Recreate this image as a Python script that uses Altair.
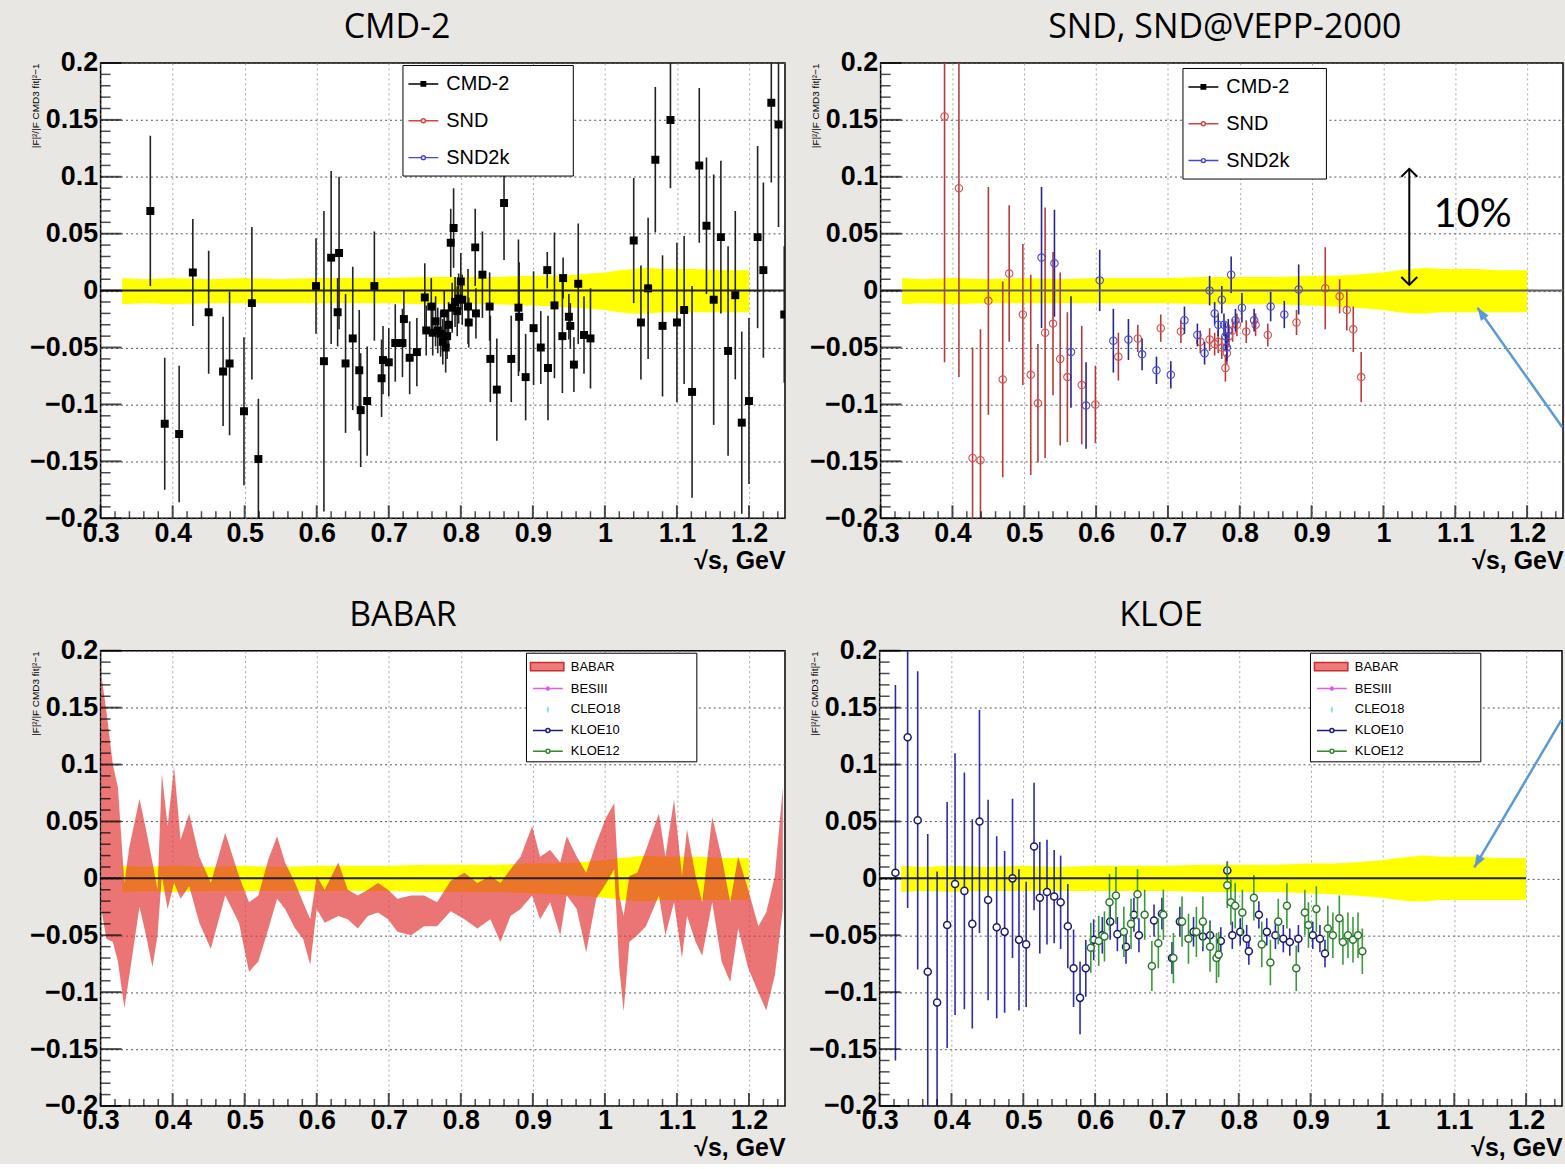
import altair as alt
import pandas as pd

# ---------------- data ----------------
cmd2_x = [0.369, 0.389, 0.409, 0.428, 0.450, 0.470, 0.479, 0.499, 0.510, 0.519,
          0.599, 0.610, 0.620, 0.631, 0.629, 0.640, 0.650, 0.659, 0.661, 0.670,
          0.680, 0.690, 0.692, 0.700, 0.709, 0.719, 0.721, 0.729, 0.739, 0.750,
          0.752, 0.759, 0.761, 0.765, 0.768, 0.772, 0.775, 0.777, 0.779, 0.781,
          0.783, 0.786, 0.788, 0.790, 0.792, 0.795, 0.797, 0.800, 0.802, 0.810,
          0.811, 0.820, 0.821, 0.830, 0.840, 0.841, 0.850, 0.860, 0.870, 0.880,
          0.881, 0.890, 0.901, 0.911, 0.920, 0.921, 0.930, 0.941, 0.942, 0.950,
          0.952, 0.957, 0.963, 0.971, 0.980, 1.040, 1.050, 1.060, 1.070, 1.080,
          1.091, 1.100, 1.110, 1.121, 1.131, 1.141, 1.151, 1.161, 1.171, 1.181,
          1.190, 1.200, 1.212, 1.220, 1.231, 1.241, 1.249]
cmd2_y = [0.070, -0.117, -0.126, 0.016, -0.019, -0.071, -0.064, -0.106, -0.011, -0.148,
          0.004, -0.062, 0.029, 0.033, -0.019, -0.064, -0.042, -0.070, -0.105, -0.097,
          0.004, -0.077, -0.061, -0.063, -0.046, -0.046, -0.025, -0.059, -0.054, -0.006,
          -0.035, -0.014, -0.037, -0.027, -0.035, -0.038, -0.045, -0.020, -0.050, -0.040,
          -0.030, 0.042, -0.015, 0.055, -0.010, -0.018, -0.007, 0.008, -0.008, -0.014,
          -0.028, 0.038, -0.020, 0.014, -0.014, -0.060, -0.087, 0.077, -0.060, -0.015,
          -0.023, -0.076, -0.033, -0.050, 0.018, -0.068, -0.013, -0.040, 0.011, -0.023,
          -0.031, -0.065, 0.006, -0.039, -0.042, 0.044, -0.028, 0.002, 0.115, -0.031,
          0.150, -0.028, -0.017, -0.089, 0.110, 0.057, -0.008, 0.047, -0.053, -0.004,
          -0.116, -0.097, 0.047, 0.018, 0.165, 0.146, -0.021]
cmd2_e = [0.066, 0.058, 0.060, 0.047, 0.054, 0.048, 0.063, 0.065, 0.067, 0.053,
          0.042, 0.132, 0.076, 0.067, 0.030, 0.061, 0.063, 0.053, 0.050, 0.048,
          0.048, 0.034, 0.030, 0.030, 0.034, 0.030, 0.025, 0.032, 0.030, 0.030,
          0.022, 0.025, 0.020, 0.022, 0.020, 0.020, 0.020, 0.020, 0.022, 0.020,
          0.020, 0.030, 0.022, 0.035, 0.022, 0.022, 0.022, 0.025, 0.022, 0.033,
          0.022, 0.034, 0.022, 0.038, 0.030, 0.038, 0.045, 0.050, 0.038, 0.060,
          0.048, 0.038, 0.050, 0.032, 0.016, 0.046, 0.064, 0.050, 0.018, 0.020,
          0.020, 0.024, 0.053, 0.034, 0.044, 0.055, 0.050, 0.062, 0.064, 0.062,
          0.060, 0.070, 0.065, 0.093, 0.068, 0.060, 0.110, 0.067, 0.092, 0.074,
          0.080, 0.073, 0.080, 0.077, 0.070, 0.090, 0.060]

snd_x = [0.389, 0.409, 0.428, 0.439, 0.450, 0.470, 0.479, 0.498, 0.509, 0.519,
         0.529, 0.540, 0.550, 0.560, 0.580, 0.599, 0.631, 0.658, 0.690, 0.718,
         0.745, 0.758, 0.765, 0.770, 0.775, 0.780, 0.782, 0.785, 0.790, 0.796,
         0.809, 0.822, 0.839, 0.879, 0.919, 0.939, 0.949, 0.958, 0.969]
snd_y = [0.153, 0.090, -0.147, -0.149, -0.009, -0.078, 0.015, -0.021, -0.074, -0.099,
         -0.037, -0.029, -0.060, -0.076, -0.083, -0.100, -0.058, -0.042, -0.033, -0.036,
         -0.045, -0.043, -0.047, -0.045, -0.050, -0.068, -0.055, -0.040, -0.035, -0.030,
         -0.036, -0.030, -0.039, -0.028, 0.002, -0.005, -0.017, -0.034, -0.076]
snd_e = [0.216, 0.166, 0.097, 0.115, 0.100, 0.086, 0.060, 0.062, 0.088, 0.052,
         0.110, 0.063, 0.076, 0.057, 0.052, 0.034, 0.021, 0.012, 0.012, 0.010,
         0.010, 0.010, 0.010, 0.010, 0.010, 0.012, 0.010, 0.010, 0.010, 0.010,
         0.010, 0.010, 0.010, 0.011, 0.036, 0.015, 0.018, 0.020, 0.022]

snd2k_x = [0.524, 0.542, 0.565, 0.586, 0.605, 0.624, 0.645, 0.664, 0.684, 0.704,
           0.723, 0.741, 0.751, 0.758, 0.765, 0.770, 0.775, 0.778, 0.780, 0.782,
           0.784, 0.788, 0.794, 0.803, 0.820, 0.843, 0.862, 0.882]
snd2k_y = [0.029, 0.024, -0.054, -0.101, 0.009, -0.044, -0.043, -0.056, -0.070, -0.074,
           -0.026, -0.039, -0.055, 0.000, -0.020, -0.030, -0.008, -0.030, -0.040, -0.050,
           -0.035, 0.014, -0.026, -0.015, -0.026, -0.014, -0.021, 0.001]
snd2k_e = [0.062, 0.047, 0.049, 0.038, 0.027, 0.028, 0.018, 0.014, 0.012, 0.012,
           0.012, 0.010, 0.010, 0.013, 0.010, 0.010, 0.012, 0.010, 0.012, 0.012,
           0.010, 0.016, 0.010, 0.013, 0.010, 0.013, 0.012, 0.022]

kloe10_x = [0.322, 0.339, 0.353, 0.367, 0.380, 0.394, 0.405, 0.418, 0.429, 0.439,
            0.451, 0.463, 0.474, 0.485, 0.494, 0.504, 0.515, 0.523, 0.533, 0.543,
            0.552, 0.562, 0.570, 0.579, 0.587, 0.598, 0.610, 0.621, 0.631, 0.643,
            0.654, 0.661, 0.682, 0.693, 0.707, 0.718, 0.737, 0.750, 0.760, 0.775,
            0.784, 0.791, 0.802, 0.811, 0.814, 0.828, 0.839, 0.851, 0.862, 0.871,
            0.883, 0.903, 0.913, 0.920]
kloe10_y = [0.005, 0.124, 0.051, -0.082, -0.109, -0.041, -0.005, -0.011, -0.040, 0.050,
            -0.019, -0.043, -0.047, 0.000, -0.054, -0.058, 0.028, -0.017, -0.012, -0.016,
            -0.021, -0.042, -0.079, -0.105, -0.079, -0.054, -0.050, -0.038, -0.049, -0.060,
            -0.032, -0.050, -0.037, -0.031, -0.070, -0.038, -0.047, -0.051, -0.050, -0.055,
            0.007, -0.050, -0.047, -0.053, -0.064, -0.032, -0.047, -0.050, -0.053, -0.056,
            -0.053, -0.050, -0.053, -0.066]
kloe10_e = [0.165, 0.150, 0.131, 0.121, 0.115, 0.108, 0.115, 0.104, 0.092, 0.098,
            0.088, 0.080, 0.071, 0.070, 0.062, 0.055, 0.056, 0.049, 0.046, 0.041,
            0.041, 0.037, 0.034, 0.032, 0.025, 0.018, 0.016, 0.016, 0.015, 0.015,
            0.015, 0.015, 0.014, 0.014, 0.014, 0.013, 0.013, 0.013, 0.013, 0.012,
            0.008, 0.012, 0.012, 0.012, 0.012, 0.012, 0.012, 0.012, 0.012, 0.012,
            0.012, 0.012, 0.012, 0.012]

kloe12_x = [0.594, 0.605, 0.613, 0.620, 0.629, 0.640, 0.650, 0.659, 0.669, 0.679,
            0.688, 0.695, 0.709, 0.721, 0.730, 0.741, 0.750, 0.760, 0.769, 0.772,
            0.784, 0.789, 0.795, 0.805, 0.821, 0.832, 0.844, 0.855, 0.867, 0.880,
            0.892, 0.897, 0.908, 0.924, 0.931, 0.940, 0.945, 0.952, 0.959, 0.966,
            0.972]
kloe12_y = [-0.061, -0.055, -0.051, -0.021, -0.015, -0.047, -0.040, -0.014, -0.032, -0.077,
            -0.057, -0.032, -0.070, -0.038, -0.053, -0.047, -0.038, -0.060, -0.070, -0.067,
            -0.006, -0.021, -0.024, -0.030, -0.017, -0.058, -0.074, -0.038, -0.024, -0.079,
            -0.030, -0.041, -0.027, -0.044, -0.050, -0.035, -0.056, -0.050, -0.054, -0.050,
            -0.064]
kloe12_e = [0.022, 0.022, 0.022, 0.025, 0.025, 0.022, 0.022, 0.022, 0.022, 0.022,
            0.022, 0.022, 0.022, 0.022, 0.022, 0.022, 0.022, 0.022, 0.022, 0.020,
            0.020, 0.020, 0.020, 0.020, 0.020, 0.020, 0.020, 0.020, 0.020, 0.020,
            0.020, 0.020, 0.020, 0.020, 0.020, 0.020, 0.020, 0.020, 0.020, 0.020,
            0.020]

# CMD-3 fit uncertainty band (yellow)
band_x = [0.33, 0.36, 0.40, 0.45, 0.50, 0.55, 0.60, 0.65, 0.70, 0.75, 0.80, 0.85,
          0.90, 0.93, 0.96, 0.98, 1.00, 1.02, 1.04, 1.06, 1.08, 1.10, 1.13, 1.16, 1.20]
band_lo = [-0.012, -0.011, -0.012, -0.011, -0.011, -0.011, -0.011, -0.011, -0.011, -0.012,
           -0.012, -0.012, -0.013, -0.014, -0.015, -0.016, -0.017, -0.019, -0.020, -0.020,
           -0.019, -0.019, -0.019, -0.019, -0.019]
band_hi = [0.011, 0.010, 0.011, 0.010, 0.011, 0.010, 0.011, 0.011, 0.011, 0.012,
           0.012, 0.012, 0.013, 0.013, 0.014, 0.015, 0.016, 0.018, 0.019, 0.020,
           0.019, 0.019, 0.019, 0.018, 0.018]

# BABAR band
babar_x = [0.301, 0.308, 0.317, 0.324, 0.333, 0.340, 0.354, 0.363, 0.372, 0.379,
           0.385, 0.393, 0.402, 0.411, 0.423, 0.437, 0.453, 0.473, 0.492, 0.506,
           0.519, 0.533, 0.545, 0.556, 0.570, 0.581, 0.591, 0.600, 0.611, 0.630,
           0.643, 0.657, 0.671, 0.685, 0.699, 0.712, 0.731, 0.749, 0.767, 0.786,
           0.805, 0.823, 0.841, 0.855, 0.869, 0.883, 0.899, 0.910, 0.924, 0.938,
           0.947, 0.961, 0.974, 0.988, 1.002, 1.013, 1.020, 1.026, 1.034, 1.045,
           1.057, 1.075, 1.084, 1.096, 1.107, 1.114, 1.126, 1.135, 1.149, 1.162,
           1.174, 1.185, 1.199, 1.213, 1.224, 1.236, 1.247]
babar_hi = [0.179, 0.147, 0.100, 0.080, -0.004, 0.028, 0.070, 0.043, 0.014, -0.010,
            0.092, 0.046, 0.098, 0.034, 0.057, 0.019, -0.004, 0.040, 0.002, -0.021,
            -0.015, 0.017, 0.037, 0.014, -0.004, -0.021, -0.036, 0.002, -0.010, 0.014,
            -0.010, -0.015, -0.010, -0.004, -0.010, -0.018, -0.015, -0.015, -0.021, -0.002,
            0.005, -0.004, 0.002, -0.004, 0.008, 0.019, 0.046, 0.019, 0.025, 0.014,
            0.037, 0.019, 0.005, 0.031, 0.054, 0.066, -0.015, -0.033, 0.002, 0.005,
            0.025, 0.057, 0.019, 0.069, 0.002, 0.043, 0.002, -0.021, 0.054, 0.019,
            -0.021, 0.019, -0.010, -0.042, -0.030, 0.002, 0.080]
babar_lo = [-0.027, -0.053, -0.056, -0.073, -0.114, -0.085, -0.025, -0.050, -0.078, -0.050,
            0.002, -0.027, -0.004, -0.018, -0.007, -0.039, -0.062, -0.015, -0.039, -0.082,
            -0.073, -0.044, -0.018, -0.027, -0.044, -0.053, -0.076, -0.027, -0.039, -0.033,
            -0.036, -0.044, -0.033, -0.030, -0.036, -0.047, -0.050, -0.042, -0.042, -0.029,
            -0.036, -0.044, -0.036, -0.056, -0.033, -0.027, -0.015, -0.036, -0.021, -0.050,
            -0.015, -0.027, -0.065, -0.018, -0.004, 0.008, -0.079, -0.117, -0.056, -0.050,
            -0.042, -0.015, -0.050, -0.021, -0.070, -0.033, -0.056, -0.068, -0.021, -0.073,
            -0.091, -0.044, -0.079, -0.100, -0.116, -0.085, -0.027]

# axis ticks
x_major = [0.3, 0.4, 0.5, 0.6, 0.7, 0.8, 0.9, 1.0, 1.1, 1.2]
x_minor = [round(0.3 + 0.02 * i, 2) for i in range(48) if i % 5]
y_major = [-0.2, -0.15, -0.1, -0.05, 0.0, 0.05, 0.1, 0.15, 0.2]
y_minor = [round(-0.2 + 0.01 * i, 2) for i in range(41) if i % 5]

# legend entries (trailing blanks + zero-width char widen the ROOT-style legend box)
NB = "\u00a0"
ZW = "\u200b"
legend1_labels = ["CMD-2", "SND", "SND2k"]
legend2_labels = ["BABAR", "BESIII", "CLEO18", "KLOE10", "KLOE12"]
legend1_names = [n + NB * 10 + ZW for n in legend1_labels]
legend1b_names = [n + NB * 5 + ZW for n in legend1_labels]
legend2_names = [n + NB * 20 + ZW for n in legend2_labels]

# ---------------- styling ----------------
W, H = 687, 457
W_R = 685
BG = "#e9e7e3"
FONT = "Liberation Sans"

LINE_SQ = "M-1.5,0H-0.22M0.22,0H1.5M-0.22,-0.22H0.22V0.22H-0.22Z"
LINE_CI = "M-1.5,0H-0.2M0.2,0H1.5M-0.2,0A0.2,0.2 0 1,1 0.2,0A0.2,0.2 0 1,1 -0.2,0"
LINE_DOT = "M-1.5,0H-0.15M0.15,0H1.5M-0.15,0A0.15,0.15 0 1,1 0.15,0A0.15,0.15 0 1,1 -0.15,0"
RECT = "M-1.75,-0.42H1.6V0.42H-1.75Z"
CLEO = "M0,-0.3V0.3M-0.12,-0.08H0.12M-0.12,0.08H0.12"
CHEV_UP = "M-1,1L0,0L1,1"
CHEV_DN = "M-1,-1L0,0L1,-1"
HEAD = "M0,0L-0.6,1.6L0.6,1.6Z"


def frame(d):
    return pd.DataFrame(d)


def pts(xs, ys, es):
    return pd.DataFrame({"x": xs, "y": ys,
                         "lo": [a - b for a, b in zip(ys, es)],
                         "hi": [a + b for a, b in zip(ys, es)]})


def make_panel(title, dx, width, legend_names, legend_shapes, legend_fills,
               legend_strokes, leg_opts, zero_end, zero_color, data_layers, extra=None):
    xs = alt.Scale(domain=[0.3, 1.25], nice=False, zero=False)
    ys = alt.Scale(domain=[-0.2, 0.2], nice=False, zero=False)
    xaxis = alt.Axis(values=x_major, format="~g", title="√s, GeV", titleAnchor="end",
                     titleFontSize=25, titleFontWeight="bold", titlePadding=2,
                     labelPadding=2, gridColor="#a8a8a8", gridDash=[2, 3])
    yaxis = alt.Axis(values=y_major, format="~g", title="|F|²/|F CMD3 fit|²−1",
                     titleFontSize=10, titleFontWeight="normal", titleX=-60, titleY=0,
                     titleAlign="right", titleBaseline="bottom", titleAngle=270,
                     labelPadding=3, gridColor="#555555", gridDash=[2, 3])

    def X(f):
        return alt.X(f, type="quantitative", scale=xs, axis=xaxis)

    def Y(f):
        return alt.Y(f, type="quantitative", scale=ys, axis=yaxis)

    band = alt.Chart(frame({"x": band_x, "lo": band_lo, "hi": band_hi})).mark_area(
        color="#ffff00", opacity=1, clip=True).encode(x=X("x"), y=Y("lo"), y2="hi")

    layers = [band]
    for kind, df, col, mcol in data_layers:
        if kind == "babar":
            layers.append(alt.Chart(df).mark_area(color="#e23b3b", opacity=0.7, clip=True)
                          .encode(x=X("x"), y=Y("lo"), y2="hi"))
            continue
        layers.append(alt.Chart(df).mark_rule(color=col, strokeWidth=1.6, clip=True)
                      .encode(x=X("x"), y=Y("lo"), y2="hi"))
        if kind == "square":
            layers.append(alt.Chart(df).mark_square(color=mcol, size=64, opacity=1, clip=True)
                          .encode(x=X("x"), y=Y("y")))
        elif kind == "open":
            layers.append(alt.Chart(df).mark_point(shape="circle", filled=False, color=mcol,
                                                   size=55, strokeWidth=1.1, opacity=1, clip=True)
                          .encode(x=X("x"), y=Y("y")))
        elif kind == "white":
            layers.append(alt.Chart(df).mark_point(shape="circle", filled=True, fill="white",
                                                   stroke=mcol, size=50, strokeWidth=1.5,
                                                   opacity=1, clip=True)
                          .encode(x=X("x"), y=Y("y")))

    zero = alt.Chart(frame({"x0": [0.3], "x1": [zero_end], "y0": [0.0]})).mark_rule(
        color=zero_color, strokeWidth=2).encode(x=X("x0"), x2="x1", y=Y("y0"))
    layers.append(zero)

    if extra is not None:
        layers.extend(extra(X, Y))

    # inward ROOT-style ticks
    layers.append(alt.Chart(frame({"xv": [0.3] * len(y_major), "yv": y_major})).mark_tick(
        orient="horizontal", size=21, thickness=2, color="black", xOffset=10.5)
        .encode(x=X("xv"), y=Y("yv")))
    layers.append(alt.Chart(frame({"xv": [0.3] * len(y_minor), "yv": y_minor})).mark_tick(
        orient="horizontal", size=10, thickness=1.5, color="black", xOffset=5)
        .encode(x=X("xv"), y=Y("yv")))
    layers.append(alt.Chart(frame({"xv": x_major, "yv": [-0.2] * len(x_major)})).mark_tick(
        orient="vertical", size=13, thickness=2, color="black", yOffset=-6.5)
        .encode(x=X("xv"), y=Y("yv")))
    layers.append(alt.Chart(frame({"xv": x_minor, "yv": [-0.2] * len(x_minor)})).mark_tick(
        orient="vertical", size=7, thickness=1.5, color="black", yOffset=-3.5)
        .encode(x=X("xv"), y=Y("yv")))

    # legend (ROOT TLegend look-alike)
    leg = alt.Legend(title=None, orient="none", fillColor="white", strokeColor="black",
                     labelFont=FONT, labelColor="black", symbolSize=400,
                     symbolStrokeWidth=1.5, labelLimit=0, **leg_opts)
    legend_layer = alt.Chart(frame({"series": legend_names})).mark_point(
        filled=True, opacity=1, size=400, strokeWidth=1.5, clip=True).encode(
        x=alt.value(-2000), y=alt.value(-2000),
        shape=alt.Shape("series:N", scale=alt.Scale(domain=legend_names, range=legend_shapes), legend=leg),
        fill=alt.Fill("series:N", scale=alt.Scale(domain=legend_names, range=legend_fills), legend=leg),
        stroke=alt.Stroke("series:N", scale=alt.Scale(domain=legend_names, range=legend_strokes), legend=leg),
    )
    layers.append(legend_layer)

    return alt.layer(*layers).properties(
        width=width, height=H,
        title=alt.TitleParams(text=title, font="Open Sans", fontSize=34, fontWeight="normal",
                              color="black", anchor="middle", frame="group", dx=dx, offset=4),
    )


leg1_shapes = [LINE_SQ, LINE_CI, LINE_CI]
leg1_fills = ["black", "white", "white"]
leg1_strokes = ["black", "#d04545", "#4545d0"]
leg2_shapes = [RECT, LINE_DOT, CLEO, LINE_CI, LINE_CI]
leg2_fills = ["#f07a7a", "#e040e0", "transparent", "white", "white"]
leg2_strokes = ["#c03030", "#e060e0", "#8fe0e0", "#1a1a80", "#2e8b2e"]

opts1 = dict(labelFontSize=20, padding=8, rowPadding=16, symbolOffset=2, labelOffset=12)
opts2 = dict(labelFontSize=13, padding=3, rowPadding=3, symbolOffset=8, labelOffset=12)


def ann_tr(X, Y):
    arr = frame({"x": [1.036], "y0": [0.005], "y1": [0.107]})
    blue = frame({"xt": [1.249], "yt": [-0.120], "xh": [1.131], "yh": [-0.0151]})
    return [
        alt.Chart(arr).mark_rule(color="black", strokeWidth=2).encode(x=X("x"), y=Y("y0"), y2="y1"),
        alt.Chart(arr).mark_point(shape=CHEV_UP, filled=False, color="black", size=256,
                                  strokeWidth=2, opacity=1).encode(x=X("x"), y=Y("y1")),
        alt.Chart(arr).mark_point(shape=CHEV_DN, filled=False, color="black", size=256,
                                  strokeWidth=2, opacity=1).encode(x=X("x"), y=Y("y0")),
        alt.Chart(frame({"x": [1.124], "y": [0.066], "t": ["10%"]})).mark_text(
            font="Lato", fontSize=40, color="black", align="center", baseline="middle")
        .encode(x=X("x"), y=Y("y"), text="t:N"),
        alt.Chart(blue).mark_rule(color="#5b9bd5", strokeWidth=2.5).encode(
            x=X("xt"), x2="xh", y=Y("yt"), y2="yh"),
        alt.Chart(blue).mark_point(shape=HEAD, filled=True, color="#5b9bd5", size=256,
                                   opacity=1, angle=325).encode(x=X("xh"), y=Y("yh")),
    ]


def ann_br(X, Y):
    blue = frame({"xt": [1.249], "yt": [0.139], "xh": [1.128], "yh": [0.0096]})
    return [
        alt.Chart(blue).mark_rule(color="#5b9bd5", strokeWidth=2.5).encode(
            x=X("xt"), x2="xh", y=Y("yt"), y2="yh"),
        alt.Chart(blue).mark_point(shape=HEAD, filled=True, color="#5b9bd5", size=256,
                                   opacity=1, angle=210).encode(x=X("xh"), y=Y("yh")),
    ]


tl = make_panel("CMD-2", -46, W, legend1_names, leg1_shapes, leg1_fills, leg1_strokes,
                dict(opts1, legendX=303, legendY=2), 1.25, "#222222",
                [("square", pts(cmd2_x, cmd2_y, cmd2_e), "#222222", "black")])

tr = make_panel("SND, SND@VEPP-2000", 3, W_R, legend1b_names, leg1_shapes, leg1_fills, leg1_strokes,
                dict(opts1, legendX=303, legendY=5), 1.25, "#606060",
                [("open", pts(snd_x, snd_y, snd_e), "#b83b3b", "#d85050"),
                 ("open", pts(snd2k_x, snd2k_y, snd2k_e), "#262690", "#4a4ad8")],
                extra=ann_tr)

bl = make_panel("BABAR", -40, W, legend2_names, leg2_shapes, leg2_fills, leg2_strokes,
                dict(opts2, legendX=427, legendY=2), 1.2, "#222222",
                [("babar", frame({"x": babar_x, "lo": babar_lo, "hi": babar_hi}), None, None)])

br = make_panel("KLOE", -60, W_R, legend2_names, leg2_shapes, leg2_fills, leg2_strokes,
                dict(opts2, legendX=432, legendY=2), 1.2, "#222222",
                [("white", pts(kloe10_x, kloe10_y, kloe10_e), "#2a2ab0", "#1a1a6e"),
                 ("white", pts(kloe12_x, kloe12_y, kloe12_e), "#3a9a3a", "#2a7a2a")],
                extra=ann_br)

IND = dict(x="independent", y="independent", shape="independent",
           fill="independent", stroke="independent")
LEG = dict(shape="independent", fill="independent", stroke="independent")

row1 = alt.hconcat(tl, tr, spacing=21).resolve_scale(**IND).resolve_legend(**LEG)
row2 = alt.hconcat(bl, br, spacing=21).resolve_scale(**IND).resolve_legend(**LEG)

chart = alt.vconcat(row1, row2, spacing=24).resolve_scale(**IND).resolve_legend(**LEG).properties(
    background=BG,
    padding={"left": 28, "top": 8, "right": 0, "bottom": 0},
).configure_view(fill="white", stroke="black", strokeWidth=1.5).configure_axis(
    labelFont=FONT, labelFontWeight="bold", labelFontSize=27, labelColor="black",
    titleFont=FONT, titleColor="black", ticks=False, domain=False, grid=True,
    gridWidth=1, labelOverlap=False, labelFlush=False,
).configure_title(font="Open Sans")

chart.save("out.html", embed_options={"renderer": "svg", "actions": False})
